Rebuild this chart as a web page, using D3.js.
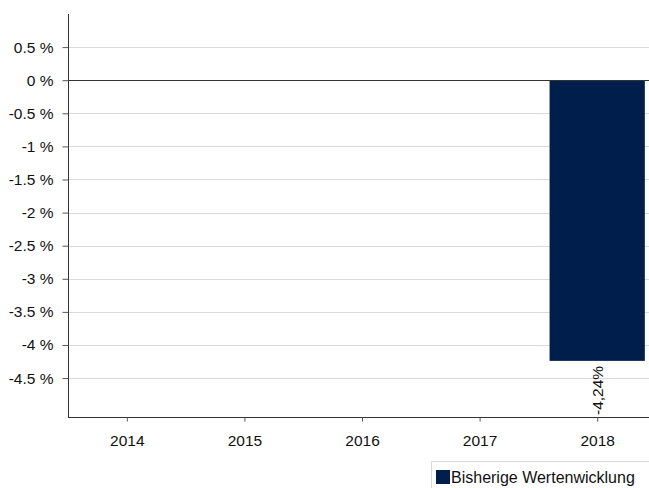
<!DOCTYPE html>
<html>
<head>
<meta charset="utf-8">
<script src="https://cdn.jsdelivr.net/npm/d3@7"></script>
<style>
  body { margin: 0; background: #fff; }
  svg { font-family: Arial, "Liberation Sans", sans-serif; }
</style>
</head>
<body>
<svg id="chart" width="649" height="488"></svg>
<script>
// chart data
const years = ['2014', '2015', '2016', '2017', '2018'];
const values = [null, null, null, null, -4.24];
const yTicks = [0.5, 0, -0.5, -1, -1.5, -2, -2.5, -3, -3.5, -4, -4.5];
const seriesName = 'Bisherige Wertenwicklung';

const svg = d3.select('#chart');
const margin = { left: 68, top: 14, right: -7, bottom: 71 };
const width = 649, height = 488;
const barColor = '#001e4b';
const fontSize = 15.5;

const x = d3.scaleBand()
    .domain(years)
    .range([margin.left, width - margin.right])
    .paddingInner(0.19)
    .paddingOuter(0.095);

const xCenter = d3.scalePoint()
    .domain(years)
    .range([margin.left, width - margin.right])
    .padding(0.5);

const y = d3.scaleLinear()
    .domain([-5.088, 1.0])
    .range([height - margin.bottom, margin.top]);

// gridlines
svg.append('g')
    .selectAll('line')
    .data(yTicks.filter(t => t !== 0))
    .join('line')
    .attr('x1', margin.left)
    .attr('x2', width)
    .attr('y1', d => Math.round(y(d)) + 0.5)
    .attr('y2', d => Math.round(y(d)) + 0.5)
    .attr('stroke', '#d9d9d9')
    .attr('stroke-width', 1);

// bars
svg.append('g')
    .selectAll('rect')
    .data(years.map((yr, i) => ({ yr, v: values[i] })).filter(d => d.v !== null))
    .join('rect')
    .attr('x', d => x(d.yr))
    .attr('width', x.bandwidth())
    .attr('y', d => y(Math.max(0, d.v)))
    .attr('height', d => Math.abs(y(d.v) - y(0)))
    .attr('fill', barColor);

// zero line
svg.append('line')
    .attr('x1', margin.left)
    .attr('x2', width)
    .attr('y1', Math.round(y(0)) + 0.5)
    .attr('y2', Math.round(y(0)) + 0.5)
    .attr('stroke', '#333')
    .attr('stroke-width', 1);

// y axis
const yAxis = d3.axisLeft(y)
    .tickValues(yTicks)
    .tickSize(6)
    .tickPadding(9)
    .tickFormat(d => String(d) + ' %');

svg.append('g')
    .attr('transform', `translate(${margin.left + 0.5},0)`)
    .call(yAxis)
    .attr('font-size', fontSize)
    .attr('font-family', 'Arial, "Liberation Sans", sans-serif')
    .call(g => g.select('.domain').attr('stroke', '#333').attr('d', `M0,${margin.top}V${height - margin.bottom}`))
    .call(g => g.selectAll('.tick line').attr('stroke', '#555'))
    .call(g => g.selectAll('.tick text').attr('fill', '#111'));

// x axis
const xAxis = d3.axisBottom(xCenter)
    .tickSize(4)
    .tickPadding(13);

svg.append('g')
    .attr('transform', `translate(0,${height - margin.bottom + 0.5})`)
    .call(xAxis)
    .attr('font-size', fontSize)
    .attr('font-family', 'Arial, "Liberation Sans", sans-serif')
    .call(g => g.select('.domain').attr('stroke', '#333').attr('d', `M${margin.left},0H${width}`))
    .call(g => g.selectAll('.tick line').attr('stroke', '#555'))
    .call(g => g.selectAll('.tick text').attr('fill', '#111'));

// value labels
svg.append('g')
    .selectAll('text')
    .data(years.map((yr, i) => ({ yr, v: values[i] })).filter(d => d.v !== null))
    .join('text')
    .attr('transform', d => `translate(${xCenter(d.yr) + 6},${y(d.v) + 5}) rotate(-90)`)
    .attr('text-anchor', 'end')
    .attr('font-size', fontSize)
    .attr('fill', '#111')
    .text(d => d.v.toFixed(2).replace('.', ',') + '%');

// legend
const legend = svg.append('g');
legend.append('rect')
    .attr('x', 431.5)
    .attr('y', 461.5)
    .attr('width', 230)
    .attr('height', 40)
    .attr('fill', '#fff')
    .attr('stroke', '#d9d9d9');
legend.append('rect')
    .attr('x', 436)
    .attr('y', 470)
    .attr('width', 14)
    .attr('height', 14)
    .attr('fill', barColor);
legend.append('text')
    .attr('x', 451)
    .attr('y', 483)
    .attr('font-size', 16)
    .attr('fill', '#111')
    .text(seriesName);
</script>
</body>
</html>
